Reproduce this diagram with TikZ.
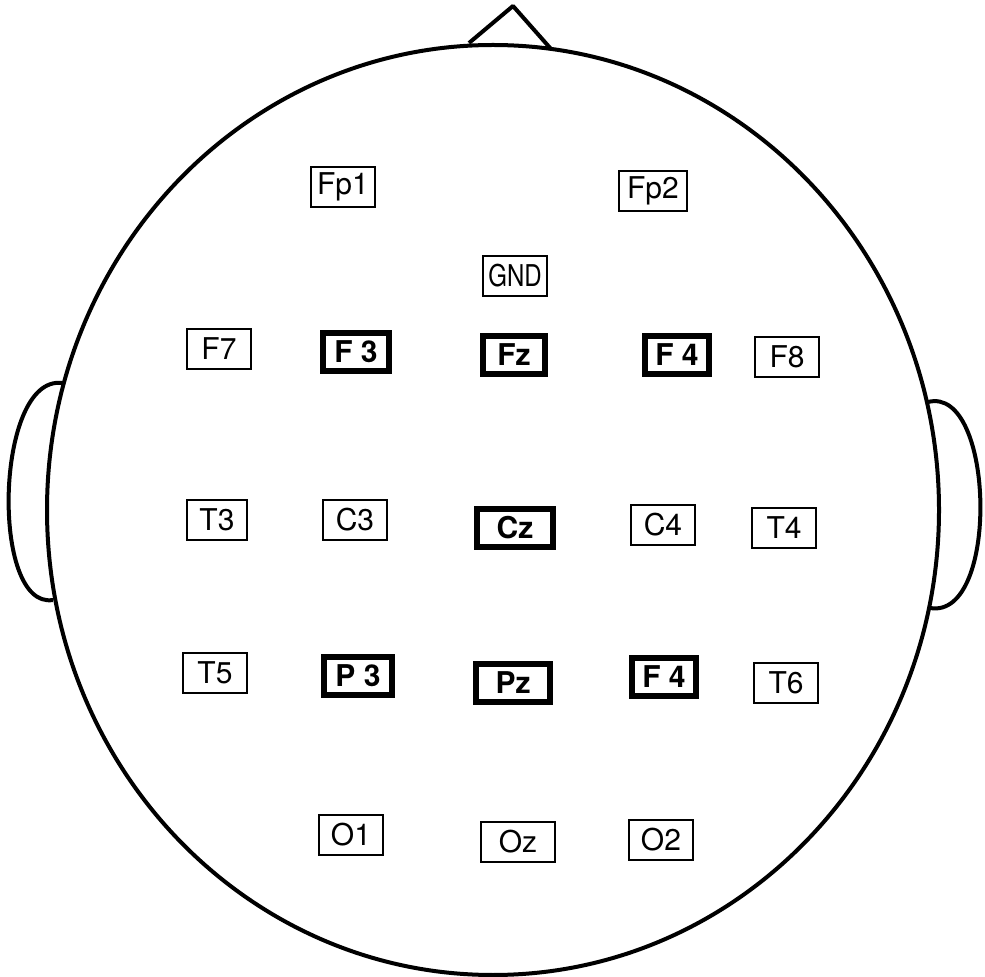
\documentclass[tikz,border=0pt]{standalone}
\usepackage{fontspec}
\usepackage{graphicx}
\setmainfont{TeX Gyre Heros}
\usetikzlibrary{positioning}

\begin{document}
\begin{tikzpicture}[
    x=0.5pt, y=-0.5pt,
    electrode/.style={draw, line width=1pt, minimum width=32pt, minimum height=20pt, inner sep=0pt, font=\fontsize{15}{18}\selectfont},
    active/.style={draw, line width=2.8pt, minimum width=33pt, minimum height=19pt, inner sep=0pt, font=\fontsize{15}{18}\selectfont\bfseries},
    outline/.style={line width=2pt, line join=round}
]
    \useasboundingbox (0,0) rectangle (985,977);

    % Head, nose and ears
    \draw[outline] (493,510) ellipse [x radius=223pt, y radius=232.5pt];
    \draw[outline] (469,43) -- (513,6) -- (551,49);
    \draw[outline] (62,383) .. controls (-5,375) and (-10,610) .. (53,600);
    \draw[outline] (928,402) .. controls (995,385) and (1000,620) .. (930,608);

    % Frontal pole and ground
    \node[electrode] (fp1) at (343,187) {Fp1};
    \node[electrode, minimum width=34pt] (fp2) at (653,191) {Fp2};
    \node[electrode] (gnd) at (515,276) {\scalebox{0.8}[1]{GND}};

    % Frontal row
    \node[electrode] (f7) at (219,349) {F7};
    \node[active] (f3) at (356,352) {F 3};
    \node[active, minimum width=31pt] (fz) at (514,355) {Fz};
    \node[active, minimum width=32pt] (f4) at (677,355) {F 4};
    \node[electrode] (f8) at (787,357) {F8};

    % Central row
    \node[electrode, minimum width=30pt] (t3) at (217,520) {T3};
    \node[electrode] (c3) at (355,520) {C3};
    \node[active, minimum width=38pt] (cz) at (515,528) {Cz};
    \node[electrode] (c4) at (663,525) {C4};
    \node[electrode] (t4) at (784,528) {T4};

    % Parietal row
    \node[electrode] (t5) at (215,673) {T5};
    \node[active, minimum width=34pt] (p3) at (358,676) {P 3};
    \node[active, minimum width=37pt] (pz) at (513,683) {Pz};
    \node[active, minimum width=32pt] (p4) at (664,677) {F 4};
    \node[electrode] (t6) at (786,683) {T6};

    % Occipital row
    \node[electrode] (o1) at (351,835) {O1};
    \node[electrode, minimum width=37pt] (oz) at (518,842) {Oz};
    \node[electrode] (o2) at (661,840) {O2};
\end{tikzpicture}
\end{document}
